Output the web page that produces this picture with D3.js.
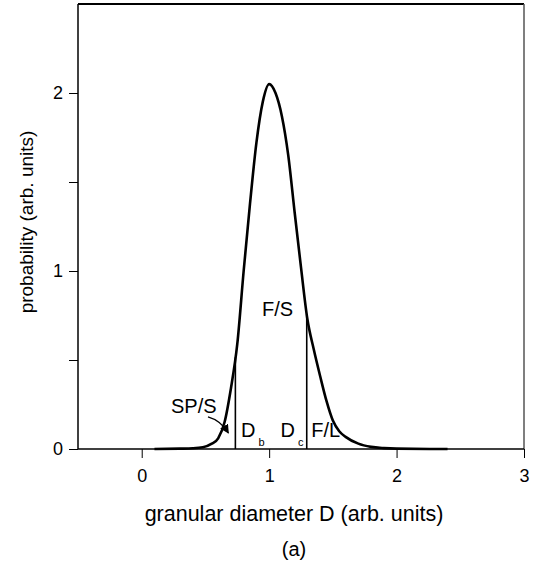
<!DOCTYPE html>
<html>
<head>
<meta charset="utf-8">
<script src="https://cdn.jsdelivr.net/npm/d3@7"></script>
<style>
	body { margin: 0; background: #fff; }
	text { font-family: "Liberation Sans", Arial, sans-serif; fill: #000; }
</style>
</head>
<body>
<div id="chart"></div>
<script>
// distribution
const diam = [0.10, 0.30, 0.40, 0.48, 0.55, 0.60, 0.65, 0.70, 0.75, 0.80, 0.85, 0.90, 0.95, 1.00,
	1.05, 1.10, 1.15, 1.20, 1.25, 1.30, 1.35, 1.40, 1.45, 1.50, 1.55, 1.60, 1.70, 1.80, 1.90, 2.00, 2.40];
const prob = [0.000, 0.002, 0.004, 0.010, 0.030, 0.060, 0.150, 0.340, 0.590, 1.000, 1.380, 1.720, 1.950, 2.050,
	2.000, 1.870, 1.650, 1.330, 1.020, 0.730, 0.560, 0.410, 0.270, 0.160, 0.100, 0.068, 0.030, 0.012, 0.005, 0.002, 0.000];

const xTicks = [0, 1, 2, 3];
const yTicks = [0, 0.5, 1, 1.5, 2];
const yLabels = [0, 1, 2];

const Db = 0.735;
const Dc = 1.295;

const chartWidth = 541, chartHeight = 568;
const plotLeft = 78, plotRight = 524, plotTop = 4, plotBottom = 449;

const svg = d3.select("#chart")
	.append("svg")
	.attr("width", chartWidth)
	.attr("height", chartHeight);

let x = d3.scaleLinear().domain([-0.5, 3]).range([plotLeft, plotRight]);
let y = d3.scaleLinear().domain([0, 2.5]).range([plotBottom, plotTop]);

const points = diam.map((d, i) => ({d: d, p: prob[i]}));
const probAt = v => {
	let i = d3.bisector(d => d.d).left(points, v);
	let a = points[i - 1], b = points[i];
	return a.p + (b.p - a.p) * (v - a.d) / (b.d - a.d);
};

// frame
svg.append("line")
	.attr("x1", plotLeft).attr("x2", plotRight)
	.attr("y1", plotTop).attr("y2", plotTop)
	.style("stroke", "#000").style("stroke-width", 2);
svg.append("line")
	.attr("x1", plotRight).attr("x2", plotRight)
	.attr("y1", plotTop).attr("y2", plotBottom)
	.style("stroke", "#555").style("stroke-width", 1.5);

let xAxis = d3.axisBottom(x).tickValues(xTicks).tickSize(9).tickPadding(11).tickFormat(d3.format("d"));
svg.append("g")
	.attr("class", "x axis")
	.attr("transform", "translate(0," + plotBottom + ")")
	.call(xAxis);

let yAxis = d3.axisLeft(y).tickValues(yTicks).tickSize(9).tickPadding(6)
	.tickFormat(d => yLabels.includes(d) ? d3.format("d")(d) : "");
svg.append("g")
	.attr("class", "y axis")
	.attr("transform", "translate(" + plotLeft + ",0)")
	.call(yAxis);

svg.selectAll(".axis path").style("stroke", "#000").style("stroke-width", 1.5);
svg.selectAll(".axis line").style("stroke", "#000").style("stroke-width", 1);
svg.selectAll(".axis text")
	.style("font-family", "'Liberation Sans', Arial, sans-serif")
	.style("font-size", "18px");
svg.select(".x.axis .domain").attr("d", "M" + plotLeft + ",0H" + plotRight);
svg.select(".y.axis .domain").attr("d", "M0," + plotBottom + "V" + plotTop);

// curve
let line = d3.line()
	.x(d => x(d.d))
	.y(d => y(d.p))
	.curve(d3.curveMonotoneX);

svg.append("path")
	.attr("d", line(points))
	.style("fill", "none")
	.style("stroke", "#000")
	.style("stroke-width", 2.6)
	.style("stroke-linejoin", "round");

// Db and Dc markers
[Db, Dc].forEach(v => {
	svg.append("line")
		.attr("x1", x(v)).attr("x2", x(v))
		.attr("y1", y(0)).attr("y2", y(probAt(v)))
		.style("stroke", "#000")
		.style("stroke-width", 1.6);
});

// annotations
const label = (tx, ty, str, size) => svg.append("text")
	.attr("x", tx).attr("y", ty)
	.style("font-size", size + "px")
	.text(str);

label(x(0.944), y(0.75), "F/S", 20);
label(x(1.33), y(0.07), "F/L", 20);
label(x(0.23), y(0.2), "SP/S", 20);

const sub = (v, main, s) => {
	let t = svg.append("text")
		.attr("x", x(v)).attr("y", y(0.07))
		.style("font-size", "20px");
	t.append("tspan").text(main);
	t.append("tspan").attr("dy", 9).attr("dx", 3).style("font-size", "11px").text(s);
};
sub(0.78, "D", "b");
sub(1.09, "D", "c");

svg.append("defs").append("marker")
	.attr("id", "head")
	.attr("viewBox", "0 0 10 10")
	.attr("refX", 9).attr("refY", 5)
	.attr("markerWidth", 7).attr("markerHeight", 7)
	.attr("orient", "auto")
	.append("path")
	.attr("d", "M0,0L10,5L0,10z")
	.style("fill", "#000");

svg.append("path")
	.attr("d", "M" + x(0.52) + "," + y(0.18) + "Q" + x(0.62) + "," + y(0.16) + " " + x(0.68) + "," + y(0.09))
	.style("fill", "none")
	.style("stroke", "#000")
	.style("stroke-width", 1.3)
	.attr("marker-end", "url(#head)");

// axis titles
svg.append("text")
	.attr("x", (plotLeft + plotRight) / 2 - 7)
	.attr("y", 521)
	.attr("text-anchor", "middle")
	.style("font-size", "21.5px")
	.text("granular diameter D (arb. units)");

svg.append("text")
	.attr("x", (plotLeft + plotRight) / 2 - 7)
	.attr("y", 556)
	.attr("text-anchor", "middle")
	.style("font-size", "20px")
	.text("(a)");

svg.append("text")
	.attr("transform", "translate(33," + 222 + ") rotate(-90)")
	.attr("text-anchor", "middle")
	.style("font-size", "19px")
	.text("probability (arb. units)");
</script>
</body>
</html>
